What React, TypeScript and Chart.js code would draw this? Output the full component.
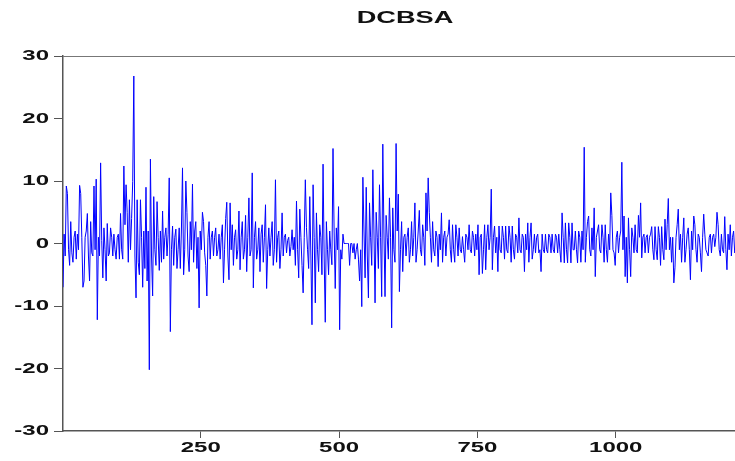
import React, { useEffect, useRef } from "react";
import { Chart, registerables } from "chart.js";

Chart.register(...registerables);

const TITLE = "DCBSA";
const OBS_START = 1;
const OBS_STEP = 2;
const X_MAX = 1230;
const xTickLabels = [250, 500, 750, 1000];
const yTickLabels = [-30, -20, -10, 0, 10, 20, 30];

const seg01 = [-7, 1.5, -2, 9.2, 8, -1, -3.5, 3.5, -1.5, -3, 1, 2, -2.5, 1.5, -1, 9.3, 8, 1, -7, -6, 1, 2, 4.8, -2, -6, 3.5, -1.5, -2, 9.2, -1];
const seg02 = [10.3, -12.2, 1, -2, 12.9, 0.5, -5.5, 2.5, -1, -6, 3.2, -2, -1.5, 2.5, 1, -2, 1.5, -1, -2.5, 1, 1.5, -2.5, 4.8, -1, -2.5, 12.4, 3, 9.4, 5, -3];
const seg03 = [7, -1, 4, 9.9, 26.8, -2, -8.7, 7, -3, -5, 7, 1, -7, 2, -4, 9, -6, 2, -20.2, 13.5, -2, -8.4, 7.5, -1, -3.5, 6.7, 1, -4.3, 2, -3];
const seg04 = [5.2, -2.5, 1, 2.5, -2, 1.5, 10.5, -14.1, -1, 2.8, -3.5, 1, 2.3, -4, -1, 2.5, -4, 2, 12.1, -5, -1, 10, 5, -2, -4.5, 3.5, -1, 9.5, -3, 2];
const seg05 = [3.5, -4, 1, -10.3, 2, -1, 5, 3.5, -1.5, -3.5, -8.4, 1, 3.5, -2.5, 1, 2, -2, 1, 2.5, -2, -1, 1.5, -2.5, 1, 3, -6.3, -1, 4, 6.6, -2];
const seg06 = [-5.8, 6.5, -1, 3, -3.5, 1, 2.2, -2.5, -1, 5.2, -4.2, 1, 3.5, -2.5, -1, 4.5, -4.5, 1, 7.3, -2, -1, 11.3, -7.1, 1, 3.5, -2.5, -1, 2.5, -4.5, 1.5];
const seg07 = [3, -3, 1, 6.2, -7.2, -1, 2.5, -2, 1, 3.5, -3.5, -1, 10.2, -3, 1, 2, -4, -1, 4.9, -2, 1, 1.5, -1.5, 0.5, 1, -2, -0.5, 2.2, -1, 1];
const seg08 = [-3.5, 6.8, -1, -5.5, 5.5, 1, -3.5, -7.9, 1, 10.2, 2.6, -1, -4, 7.5, -2, -13, 9.4, 1, -9.5, 4.9, -1, -4.5, 3, 1, -5, 12.7, -2, -12.6, 3.5, -1];
const seg09 = [-5, 2, -1, -3.4, 15.2, 2, -7.2, 2.5, -1, 5.9, -13.8, -1, -2.5, 1.5, 0, 0, 0, 0, 0, -3.5, 0, 0, -1.5, 0, -2.5, -1, 0, -2.5, -6, -1];
const seg10 = [-10.1, 10.6, 2, -5.5, 9, -2, -8.7, 6.5, 1, -3.5, 11.8, 2, -9.5, 5, 1, -4, 9.4, 1, -8.5, 15.9, 2, -8.5, 4.5, 1, -2.5, 7.3, 1, -13.5, 5.7, -1];
const seg11 = [-3, 16, 2, 7.9, -7.7, -1, 3.5, -4.5, 1, 1.5, -2, 1, 2.5, -3, -1, 3.5, -2, 1, 6.5, -3, -1, 2, 5.3, -1, -2, 3, 1, -3.5, 8.1, 2];
const seg12 = [10.5, 5, 1, -3, 3.5, -1, -2, 2, 1, -3.7, 1.5, -1, 4.9, -3, 1, 2, -2, 1, 1.5, 3.8, -1, -3, 3, -1, -3, 3, 1, -2, 2.5, -1];
const seg13 = [-1.5, 1.1, -1, -3, 1.5, 1, -1, 3, -1, -1.5, 2, 1, -2, 1.5, -1, 3, -5, 1, 1.5, -4.8, -1, 3, -4.2, 1, 3, -1, 1, 8.7, -4.2, 1];
const seg14 = [2.8, -1.5, 1, -4.5, 2.8, -1, -1.5, 2.8, 1, -2.5, 2.8, -1, -1.5, 2.8, 1, -3, 2.8, -1, -2.5, 1.5, 1, -1.5, 4.1, -1, -1.5, 1.5, 1, -4.5, 1.5, -1];
const seg15 = [3.3, -3, 1, 3.3, -2.5, -1, 1.5, -1.5, 1, 1.5, -1.5, -1, -4.5, 1.5, -1, -1.5, 1.5, -1, -1.5, 1.5, 1, -1.5, 1.5, -1, -1.5, 1.5, 1, -1.5, 1.5, -1];
const seg16 = [-3, 4.9, 1, -3.1, 3.3, -1, -3.1, 3.3, 1, -3.1, 3.3, -1, -1, 2, -1, -3.1, 2, 1, -3, 2, -1, 15.4, -3, 1, 3.5, 4.4, -1, -2, 2.5, -1];
const seg17 = [5.7, -5.3, 1, 2, 3, -1, -1.5, 3, 1, -3, 3, -1, -3, 1.5, -1, 8.1, 4.5, -1, -1.5, -3.5, 1, 2, -1.5, 1, 2, 13, -1, 4.4, -5.3, 1];
const seg18 = [-6.3, 4.1, -1, -5.3, 2.5, 1, -1.5, 3, -1, -1.5, 4.5, 1, 6.5, -2.3, 1, 1.5, -1.5, 1, 1.4, -1.5, 1, 1.5, 2.7, -1, -2.6, 2.7, -1, -2.6, 2.7, 1];
const seg19 = [-3.5, 2.7, -1, -2.6, 3.9, -1, 3, 7.2, -1, 1, -3, 1, -6.3, -3.9, 1, 3, 5.5, -1, 1.5, -3, 1, 4.1, -3, -1, 1.5, 2.5, -1, -5.8, 2, -1];
const seg20 = [4.4, 3, -1, -3, 1.5, 1, -1.5, -4.5, 1, 4.7, 1.5, -1, -1.5, -2, 1, 1.5, -1.5, 1, 1.5, -0.5, 1, 5, 3, -1, -2, 1.5, -1, -1.5, 4.3, -1];
const seg21 = [-4.2, 1.5, -1, 3, -2, 1, 2, -1.5, -1, 1.5, -1.5, 1, 2, -1, 1];

const dcbsa = [
  ...seg01, ...seg02, ...seg03, ...seg04, ...seg05, ...seg06, ...seg07,
  ...seg08, ...seg09, ...seg10, ...seg11, ...seg12, ...seg13, ...seg14,
  ...seg15, ...seg16, ...seg17, ...seg18, ...seg19, ...seg20, ...seg21,
];

const FONT = "'Liberation Sans', Arial, sans-serif";
const STRETCH = 1.6;

const textPlugin = {
  id: "stretchedText",
  afterDraw(chart: any) {
    const { ctx, chartArea, scales } = chart;
    const xs = scales.x;
    const ys = scales.y;
    ctx.save();
    ctx.strokeStyle = "#777";
    ctx.lineWidth = 1;
    ctx.beginPath();
    ctx.moveTo(chartArea.left, Math.round(chartArea.top) + 0.5);
    ctx.lineTo(chartArea.right, Math.round(chartArea.top) + 0.5);
    ctx.stroke();

    ctx.fillStyle = "#111";
    ctx.textBaseline = "middle";
    ctx.font = `bold 15px ${FONT}`;
    ctx.textAlign = "right";
    for (const v of yTickLabels) {
      const py = ys.getPixelForValue(v);
      ctx.save();
      ctx.translate(chartArea.left - 14, py);
      ctx.scale(STRETCH, 1);
      ctx.fillText(String(v), 0, 0);
      ctx.restore();
    }
    ctx.textAlign = "center";
    for (const v of xTickLabels) {
      const px = xs.getPixelForValue(v);
      ctx.save();
      ctx.translate(px, chartArea.bottom + 17);
      ctx.scale(STRETCH, 1);
      ctx.fillText(String(v), 0, 0);
      ctx.restore();
    }
    ctx.font = `bold 17px ${FONT}`;
    ctx.save();
    ctx.translate((chartArea.left + chartArea.right) / 2 + 2, 18);
    ctx.scale(STRETCH, 1);
    ctx.fillText(TITLE, 0, 0);
    ctx.restore();
    ctx.restore();
  },
};

export default function App() {
  const ref = useRef<HTMLCanvasElement | null>(null);
  useEffect(() => {
    if (!ref.current) return;
    const points = dcbsa.map((v, i) => ({ x: OBS_START + i * OBS_STEP, y: v }));
    const chart = new Chart(ref.current, {
      type: "line",
      data: {
        datasets: [
          {
            label: TITLE,
            data: points,
            borderColor: "#0000ff",
            borderWidth: 1,
            pointRadius: 0,
            tension: 0,
            fill: false,
          },
        ],
      },
      options: {
        animation: false,
        responsive: false,
        devicePixelRatio: 1,
        layout: { padding: { top: 56, left: 0, right: 17, bottom: 0 } },
        plugins: { legend: { display: false }, title: { display: false }, tooltip: { enabled: false } },
        scales: {
          x: {
            type: "linear",
            min: OBS_START,
            max: X_MAX,
            afterBuildTicks: (s: any) => {
              s.ticks = xTickLabels.map((v) => ({ value: v }));
            },
            afterFit: (s: any) => {
              s.height = 30;
            },
            ticks: { display: false },
            grid: { display: true, drawOnChartArea: false, drawTicks: true, tickLength: 7, color: "#555", lineWidth: 1 },
            border: { display: true, color: "#555", width: 1.5 },
          },
          y: {
            type: "linear",
            min: -30,
            max: 30,
            afterBuildTicks: (s: any) => {
              s.ticks = yTickLabels.map((v) => ({ value: v }));
            },
            afterFit: (s: any) => {
              s.width = 63;
            },
            ticks: { display: false },
            grid: { display: true, drawOnChartArea: false, drawTicks: true, tickLength: 9, color: "#555", lineWidth: 1 },
            border: { display: true, color: "#555", width: 1.5 },
          },
        },
      },
      plugins: [textPlugin],
    });
    return () => chart.destroy();
  }, []);
  return (
    <div style={{ position: "fixed", left: 0, top: 0, width: 735, height: 461, overflow: "hidden", background: "#fff" }}>
      <canvas ref={ref} width={760} height={461} style={{ display: "block" }} />
    </div>
  );
}
